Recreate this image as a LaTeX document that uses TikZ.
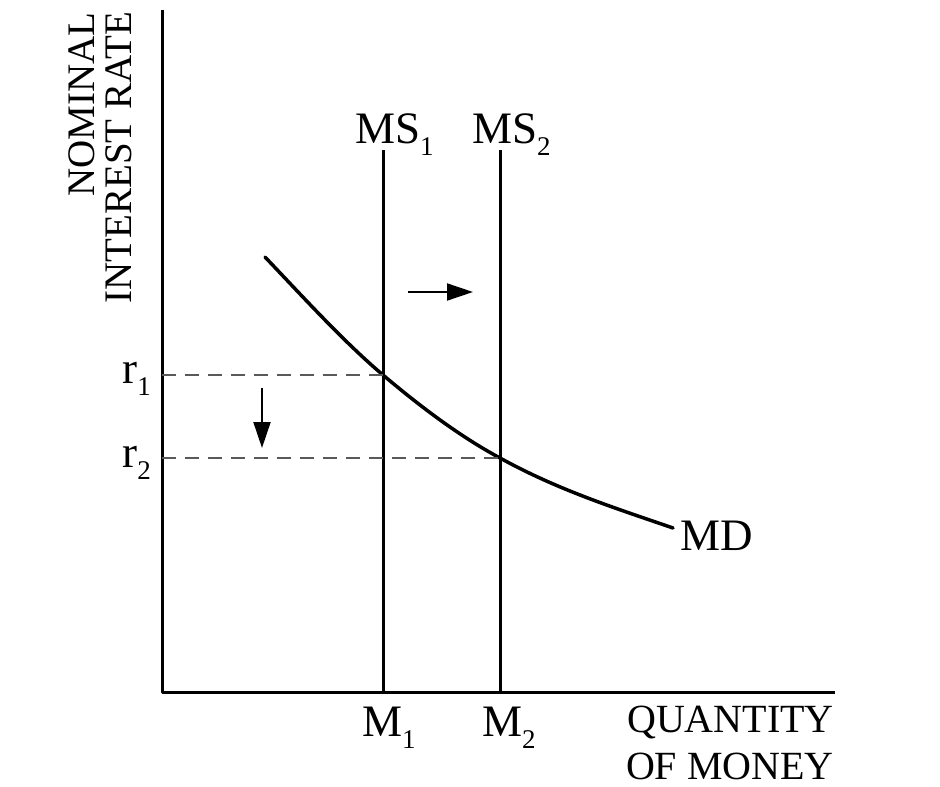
\documentclass[tikz,border=0pt]{standalone}
\usepackage{fontspec}
\setmainfont{Liberation Serif}
\usetikzlibrary{arrows.meta}
\newcommand{\lowsub}[1]{\raisebox{-0.28em}{\fontsize{27}{27}\selectfont #1}}
\begin{document}
\begin{tikzpicture}[x=1pt, y=-1pt, line join=round,
  lbl/.style={inner sep=0pt, font=\fontsize{45}{54}\selectfont},
  axis text/.style={inner sep=0pt, align=right},
  guide/.style={line width=2.8pt, gray!70!black, dash pattern=on 14pt off 9pt},
  shift arrow/.style={line width=2pt, -{Triangle[length=26pt, width=17pt]}}]
  \useasboundingbox (0,0) rectangle (940,787);
  % axes
  \coordinate (origin) at (162,692);
  \coordinate (ytop) at (162,10);
  \coordinate (xend) at (835,692);
  \draw [line width=3pt] (ytop) -- (origin) -- (xend);
  \node [axis text, rotate=90, anchor=east, font=\fontsize{39}{37}\selectfont]
    (ylab) at (100,12) {NOMINAL\\INTEREST RATE};
  \node [axis text, anchor=north east, font=\fontsize{40}{47}\selectfont]
    (xlab) at (834,706) {QUANTITY\\OF MONEY};
  % money supply
  \coordinate (m1) at (383,692);
  \coordinate (m2) at (500,692);
  \coordinate (ms1top) at (383,150);
  \coordinate (ms2top) at (500,150);
  \draw [line width=3pt] (ms1top) -- (m1);
  \draw [line width=3pt] (ms2top) -- (m2);
  \node [lbl, anchor=base west] (ms1) at (355,143) {MS\lowsub{1}};
  \node [lbl, anchor=base west] (ms2) at (472,143) {MS\lowsub{2}};
  \node [lbl, anchor=base west] (m1lab) at (362,736) {M\lowsub{1}};
  \node [lbl, anchor=base west] (m2lab) at (482,736) {M\lowsub{2}};
  % money demand
  \coordinate (mdstart) at (265,257);
  \coordinate (e1) at (383,375);
  \coordinate (e2) at (500,458);
  \coordinate (mdend) at (673,528);
  \draw [line width=3.5pt, line cap=round] (mdstart)
    .. controls (304,298) and (344,342) .. (e1)
    .. controls (422,408) and (461,437) .. (e2)
    .. controls (558,490) and (615,508) .. (mdend);
  \node [lbl, anchor=west] (md) at (680,536) {MD};
  % interest rates
  \draw [guide] (origin |- e1) -- (e1);
  \draw [guide] (origin |- e2) -- (e2);
  \node [lbl, anchor=base east] (r1) at (151,383) {r\lowsub{1}};
  \node [lbl, anchor=base east] (r2) at (151,467) {r\lowsub{2}};
  % shifts
  \coordinate (down from) at (262,388);
  \coordinate (down to) at (262,448);
  \coordinate (right from) at (408,292);
  \coordinate (right to) at (473,292);
  \draw [shift arrow] (down from) -- (down to);
  \draw [shift arrow] (right from) -- (right to);
\end{tikzpicture}
\end{document}
